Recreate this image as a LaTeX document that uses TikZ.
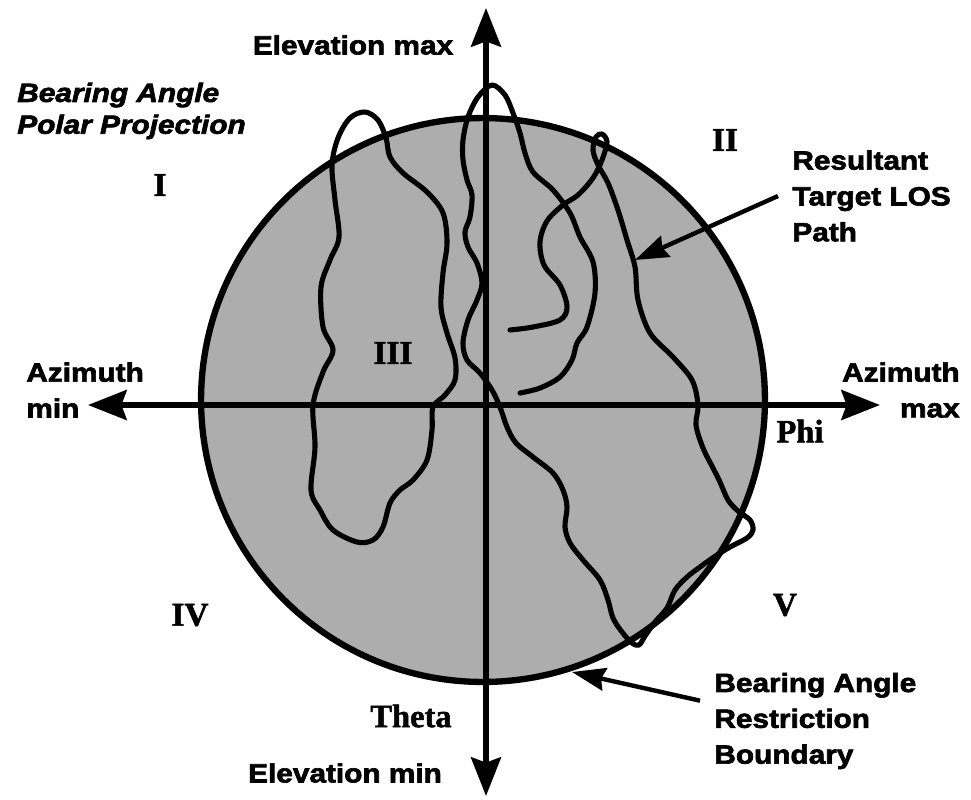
\documentclass[tikz,border=0pt]{standalone}
\usepackage{fontspec}
\usetikzlibrary{arrows.meta}
\newfontfamily\labfont{Liberation Sans}[FakeStretch=1.13, BoldFeatures={FakeBold=2.5}, BoldItalicFeatures={FakeBold=2.5}]
\newfontfamily\romfont{Liberation Serif}[BoldFeatures={FakeBold=1.5}]
\tikzset{
  lbl/.style={font=\labfont\bfseries\fontsize{15pt}{20.4pt}\selectfont, inner sep=0pt, align=left},
  lblit/.style={font=\labfont\bfseries\itshape\fontsize{15pt}{18.1pt}\selectfont, inner sep=0pt, align=left},
  rom/.style={font=\romfont\bfseries\fontsize{19pt}{22pt}\selectfont, inner sep=0pt},
  greek/.style={font=\romfont\bfseries\fontsize{18.5pt}{21pt}\selectfont, inner sep=0pt},
  axis/.style={line width=3.1pt, {Stealth[length=22pt,width=17pt,inset=3pt]}-{Stealth[length=22pt,width=17pt,inset=3pt]}},
  los/.style={line width=2.9pt, line join=round, line cap=round},
  rim/.style={line width=3.6pt, fill=black!32},
  callout/.style={line width=2.5pt, -{Stealth[length=19pt,width=13pt,inset=2pt]}},
}
\begin{document}
\begin{tikzpicture}[x=0.02cm,y=-0.02cm]
\useasboundingbox (0,0) rectangle (971,799);
\fill[white] (0,0) rectangle (971,799);

% restriction boundary
\coordinate (C) at (483,400);
\draw[rim] (C) circle[radius=5.64cm];

% closed loop (left)
\draw[los] plot[smooth cycle, tension=0.55] coordinates {
 (433,407) (445,395) (455,380) (455,358) (447,333) (441,307) (443,273) (447,243)
 (443,213) (427,192) (403,173) (390,157) (386,138) (378,120) (365,112) (350,118)
 (338,138) (332,165) (335,200) (339,237) (330,260) (321,287) (323,327) (333,350)
 (323,372) (313,405) (315,447) (311,490) (320,510) (333,530) (357,542) (373,540)
 (383,527) (390,503) (400,490) (413,480) (427,460) (432,430)};

% long resultant path
\draw[los] plot[smooth, tension=0.55] coordinates {
 (520,393) (540,388) (560,377) (572,360) (577,343) (587,327) (595,293) (593,262)
 (580,237) (570,213) (553,190) (533,172) (525,153) (520,133) (513,113) (505,95)
 (492,85) (478,97) (468,117) (463,140) (463,160) (467,180) (472,195) (470,217)
 (465,232) (468,247) (477,263) (482,283) (477,300) (468,320) (463,343) (467,360)
 (480,373) (492,390) (500,407) (507,427) (516,443) (533,457) (553,473) (563,490)
 (567,507) (565,527) (570,543) (583,560) (600,580) (608,600) (613,618) (622,632)
 (632,643) (639,645) (645,636) (655,622) (667,608) (675,590) (687,577) (700,567)
 (714,557) (730,547) (747,538) (753,530) (750,520) (738,511) (728,500) (720,482)
 (713,468) (703,448) (696,425) (698,405) (692,380) (673,357) (650,333) (638,300)
 (635,267) (627,240) (618,210) (608,183) (598,165) (593,150) (596,137) (602,134)
 (607,142) (602,160) (593,178) (578,195) (563,205) (547,221) (540,242) (544,265)
 (560,285) (567,307) (560,320) (533,327) (510,330)};

% axes
\coordinate (top) at (486,8);
\coordinate (bot) at (486,796);
\coordinate (lft) at (88,405);
\coordinate (rgt) at (880,405);
\draw[axis] (bot) -- (top);
\draw[axis] (lft) -- (rgt);

% labels
\node[lbl] (elmax) at (353,45) {Elevation max};
\node[lbl] (elmin) at (345,773) {Elevation min};
\node[lblit, anchor=west] (title) at (17,111) {Bearing Angle\\Polar Projection};
\node[lbl, anchor=west] (azmin) at (26,390) {Azimuth\\min};
\node[lbl, anchor=east, align=right] (azmax) at (960,390) {Azimuth\\max};
\node[rom] (q1) at (160,185) {I};
\node[rom] (q2) at (725,140) {II};
\node[rom] (q3) at (393,353) {III};
\node[rom] (q4) at (190,615) {IV};
\node[rom] (q5) at (785,605) {V};
\node[greek] (phi) at (800,431) {Phi};
\node[greek] (theta) at (411,716) {Theta};

\node[lbl, anchor=west, inner xsep=8pt] (res) at (778,196) {Resultant\\Target LOS\\Path};
\node[lbl, anchor=west, inner xsep=8pt] (bar) at (700,721) {Bearing Angle\\Restriction\\Boundary};
\coordinate (tipR) at (635,260);
\coordinate (tipB) at (572,672);
\draw[callout] (res.west) -- (tipR);
\draw[callout] (bar.170) -- (tipB);
\end{tikzpicture}
\end{document}
